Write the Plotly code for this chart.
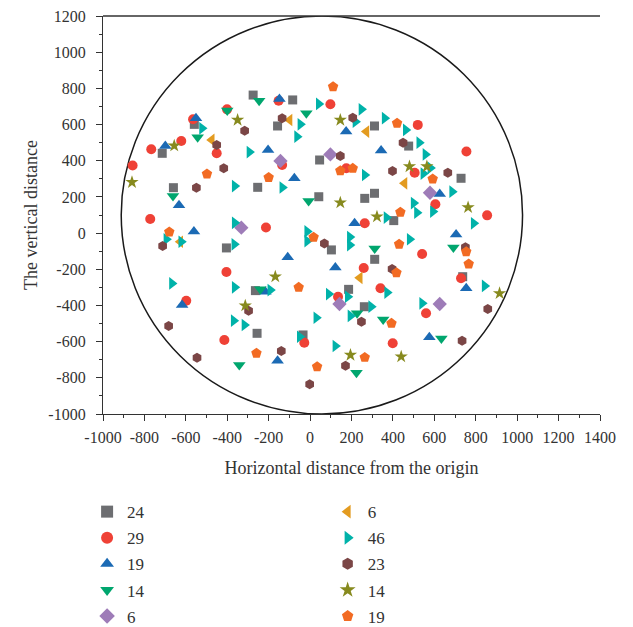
import plotly.graph_objects as go

# ---- data ----
sq_x = [-275, -84, -559, -157, -714, 46, 311, 476, 729, -660, -253, 42, 264, 311, 404, -404, 103, 312, 737, -264, 186, 262, -256, -34]
sq_y = [763, 736, 601, 592, 441, 404, 592, 481, 303, 251, 253, 201, 192, 220, 69, -82, -93, -145, -241, -318, -311, -407, -554, -563]

ci_x = [-152, 98, -401, -565, 520, -622, -767, -451, 755, -857, -135, 175, 505, 605, 855, -772, -213, 264, 541, -404, 259, 729, 340, -598, 135, 560, -414, -28, 399]
ci_y = [732, 712, 684, 629, 598, 509, 463, 441, 451, 374, 376, 358, 334, 159, 98, 78, 31, 54, -116, -215, -193, -250, -305, -374, -352, -443, -591, -606, -609]

up_x = [-148, -551, 174, -699, -203, 343, -76, 626, -633, 215, -561, 705, -108, 122, 754, -216, -618, 576, -157]
up_y = [741, 635, 561, 481, 459, 456, 303, 216, 154, 54, 9, -8, -134, -190, -305, -324, -397, -576, -705]

dn_x = [-246, -400, -18, -543, -662, -7, 312, 692, -240, 227, 353, 634, -342, 224]
dn_y = [732, 677, 662, 530, 205, 177, -85, -80, -311, -443, -477, -582, -729, -772]

di_x = [-143, 98, 579, -332, 142, 626]
di_y = [399, 435, 223, 30, -392, -392]

lt_x = [-99, -475, 272, 456, 240, -627]
lt_y = [625, 515, 561, 275, -247, -48]

rt_x = [-522, 42, 248, -47, -63, 219, 360, 462, 527, 557, -293, 264, 547, 581, -364, -134, 686, 500, 516, 593,
        369, 790, -364, -694, -622, -366, -14, -14, 192, 192, 481, -667, -364, -192, 372, 90, 182, 843, 541, -369,
        -317, 30, 195, 295, -50, 122]
rt_y = [579, 714, 684, 601, 533, 616, 635, 570, 500, 435, 448, 321, 329, 360, 260, 252, 229, 166, 113, 119,
        86, 54, 57, -34, -48, -62, 9, -44, -22, -66, -34, -278, -300, -315, -329, -337, -352, -292, -388, -484,
        -508, -468, -458, -407, -573, -624]

hx_x = [-316, -451, -417, -549, -712, -135, 206, 449, 146, 398, 665, 69, 750, 396, -297, -683, -546, 858, 734, 248, -139, 171, -2]
hx_y = [566, 487, 358, 251, -71, 635, 638, 500, 426, 343, 334, -57, -78, -198, -429, -514, -689, -420, -595, -490, -652, -733, -836]

st_x = [-350, -656, -860, 146, 480, 564, 146, 323, 763, 915, -168, -313, 195, 440]
st_y = [625, 483, 281, 625, 368, 368, 168, 91, 142, -333, -241, -401, -674, -683]

pe_x = [111, -498, -200, 420, 146, 206, 592, 436, -680, 17, 430, 754, 766, 417, -55, -259, 393, 264, 34]
pe_y = [809, 327, 307, 607, 345, 358, 299, 115, 6, -23, -62, -103, -171, -219, -300, -664, -499, -687, -739]

x_ticks = list(range(-1000, 1401, 200))
y_ticks = list(range(-1000, 1201, 200))
x_ticktext = [str(v) for v in x_ticks]
y_ticktext = [str(v) for v in y_ticks]

series = [
    ("24", sq_x, sq_y, "square", "#6d6e71", 9, "legend", 1),
    ("29", ci_x, ci_y, "circle", "#ef4136", 10, "legend", 2),
    ("19", up_x, up_y, "triangle-up", "#1b6ab4", 11, "legend", 3),
    ("14", dn_x, dn_y, "triangle-down", "#00a66e", 11, "legend", 4),
    ("6", di_x, di_y, "diamond", "#9e7cb8", 11, "legend", 5),
    ("6", lt_x, lt_y, "triangle-left", "#e39b20", 11, "legend2", 6),
    ("46", rt_x, rt_y, "triangle-right", "#00b2a9", 11, "legend2", 7),
    ("23", hx_x, hx_y, "hexagon", "#7b4646", 10, "legend2", 8),
    ("14", st_x, st_y, "star", "#878a1e", 10, "legend2", 9),
    ("19", pe_x, pe_y, "pentagon", "#f26b23", 11, "legend2", 10),
]

FONT = "Liberation Serif"
fig = go.Figure()
for name, xs, ys, sym, col, size, lg, rank in series:
    fig.add_trace(go.Scatter(
        x=xs, y=ys, mode="markers", name=name,
        marker=dict(symbol=sym, color=col, size=size, line=dict(width=0)),
        legend=lg, legendgroup="g%d" % rank, legendrank=rank,
    ))

# boundary circle
fig.add_shape(type="circle", xref="x", yref="y", x0=-912, x1=1026, y0=-1000, y1=1200,
              line=dict(color="#1a1a1a", width=1.5), layer="below")

axis_common = dict(
    showgrid=False, zeroline=False, showline=True, linecolor="#333333", linewidth=1.3,
    ticks="outside", ticklen=6, tickwidth=1.2, tickcolor="#333333",
    tickfont=dict(family=FONT, size=16, color="#333333"),
    minor=dict(ticks="outside", ticklen=3, tickwidth=1, tickcolor="#333333", dtick=100),
)
fig.update_xaxes(range=[-1000, 1400], tickmode="array", tickvals=x_ticks, ticktext=x_ticktext,
                 ticklabelstandoff=3,
                 title=dict(text="Horizontal distance from the origin", standoff=16,
                            font=dict(family=FONT, size=18, color="#333333")),
                 **axis_common)
fig.update_yaxes(range=[-1000, 1200], tickmode="array", tickvals=y_ticks, ticktext=y_ticktext,
                 ticklabelstandoff=7,
                 title=dict(text="The vertical distance", standoff=6,
                            font=dict(family=FONT, size=18, color="#333333")),
                 **axis_common)

# top frame line
fig.add_shape(type="line", xref="paper", yref="paper", x0=0, x1=1, y0=1, y1=1,
              line=dict(color="#333333", width=1.3))

legend_common = dict(orientation="v", yanchor="top", xanchor="left", yref="container",
                     font=dict(family=FONT, size=17, color="#333333"),
                     tracegroupgap=1, bgcolor="rgba(0,0,0,0)", itemsizing="constant")
fig.update_layout(
    width=633, height=627,
    margin=dict(l=103, r=33, t=16, b=213, autoexpand=False),
    plot_bgcolor="white", paper_bgcolor="white",
    font=dict(family=FONT, color="#333333"),
    legend=dict(x=-0.032, y=0.212, **legend_common),
    legend2=dict(x=0.452, y=0.212, **legend_common),
)

fig.write_html("out.html")
